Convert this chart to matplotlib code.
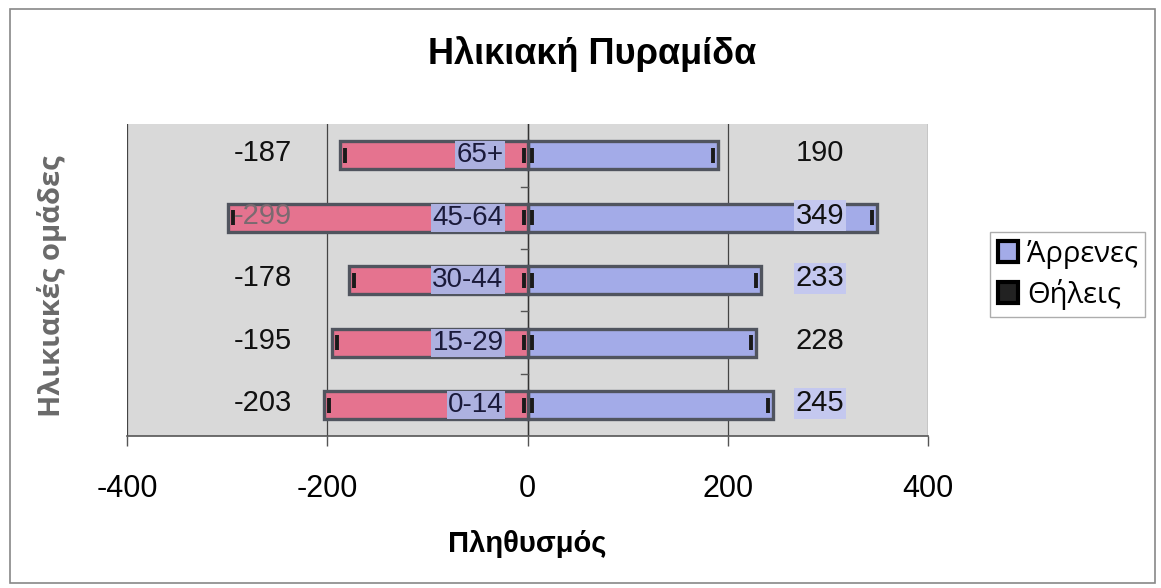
import numpy as np
import matplotlib.pyplot as plt
from matplotlib.patches import Rectangle, Patch

# age pyramid data (bottom to top)
groups = ["0-14", "15-29", "30-44", "45-64", "65+"]
males = [245, 228, 233, 349, 190]
females = [-203, -195, -178, -299, -187]

pink = "#e5738f"
lav = "#a3abe8"
edge = "#50545e"
bg = "#d9d9d9"

fig = plt.figure(figsize=(11.61, 5.88), dpi=100)
ax = fig.add_axes([0.1094, 0.258, 0.690, 0.531])
ax.set_facecolor(bg)

y = np.arange(len(groups))
ax.barh(y, males, height=0.45, color=lav, edgecolor=edge, linewidth=2.4, zorder=3)
ax.barh(y, females, height=0.45, color=pink, edgecolor=edge, linewidth=2.4, zorder=3)

# little dark ticks at bar ends and next to zero
for i in range(len(groups)):
    for v in (males[i], females[i]):
        s = np.sign(v)
        ax.vlines([v - s * 5, s * 4], i - 0.12, i + 0.12, color="#1a1a1a", lw=2.8, zorder=4)

# category labels near zero
for i, g in enumerate(groups):
    ax.text(-24, i, g, ha="right", va="center", fontsize=20, family="Liberation Sans",
            color="#1a1a3a", zorder=5,
            bbox=dict(boxstyle="square,pad=0.04", fc="#adb1e0", ec="none"))

# value labels
for i in range(len(groups)):
    ax.text(-264, i + 0.03, str(females[i]), ha="center", va="center", fontsize=21,
            family="Liberation Sans", color="#7a6a70" if females[i] < -265 else "#111111", zorder=5)
    ax.text(292, i + 0.03, str(males[i]), ha="center", va="center", fontsize=21,
            family="Liberation Sans", color="#111111", zorder=5,
            bbox=None if i in (1, 4) else dict(boxstyle="square,pad=0.05", fc="#c4c8ef", ec="none"))

ax.set_xlim(-400, 400)
ax.set_ylim(-0.5, 4.5)
ax.set_xticks([-400, -200, 0, 200, 400])
ax.set_xticklabels(["-400", "-200", "0", "200", "400"], family="Liberation Sans", fontsize=22)
ax.tick_params(axis="x", length=7, width=1, color="#555555", pad=20)
ax.set_yticks([])
ax.grid(axis="x", color="#444444", lw=0.9, zorder=1)
ax.set_axisbelow(True)

# vertical axis at zero with ticks between categories
ax.axvline(0, color="#333333", lw=1.0, zorder=2)
for b in np.arange(0.5, 4.0, 1.0):
    ax.plot([-7, 0], [b, b], color="#555555", lw=1, zorder=2)

for sp in ["top", "right", "left"]:
    ax.spines[sp].set_visible(False)
ax.spines["bottom"].set_color("#555555")
ax.spines["bottom"].set_linewidth(1.2)

ax.set_xlabel("Πληθυσμός", fontsize=21, fontweight="bold", family="Liberation Sans", labelpad=19)
fig.text(0.045, 0.514, "Ηλικιακές ομάδες", rotation=90, ha="center", va="center",
         fontsize=21, fontweight="bold", family="Open Sans", color="#6a6a6a")
fig.text(0.51, 0.908, "Ηλικιακή Πυραμίδα", ha="center", va="center", fontsize=26,
         fontweight="bold", family="Liberation Sans")

handles = [Patch(facecolor=lav, edgecolor="black", linewidth=3),
           Patch(facecolor="#222222", edgecolor="black", linewidth=3)]
leg = fig.legend(handles, ["Άρρενες", "Θήλεις"], loc="upper left", bbox_to_anchor=(0.853, 0.605),
                 prop={"family": "Open Sans", "size": 21}, frameon=True, fancybox=False,
                 edgecolor="#999999", handlelength=0.7, handleheight=0.7, handletextpad=0.3,
                 labelspacing=0.35, borderpad=0.25, borderaxespad=0)

fig.patches.append(Rectangle((0.009, 0.009), 0.986, 0.976, transform=fig.transFigure,
                             fill=False, ec="#888888", lw=1.2))

fig.savefig("out.png", dpi=100)
